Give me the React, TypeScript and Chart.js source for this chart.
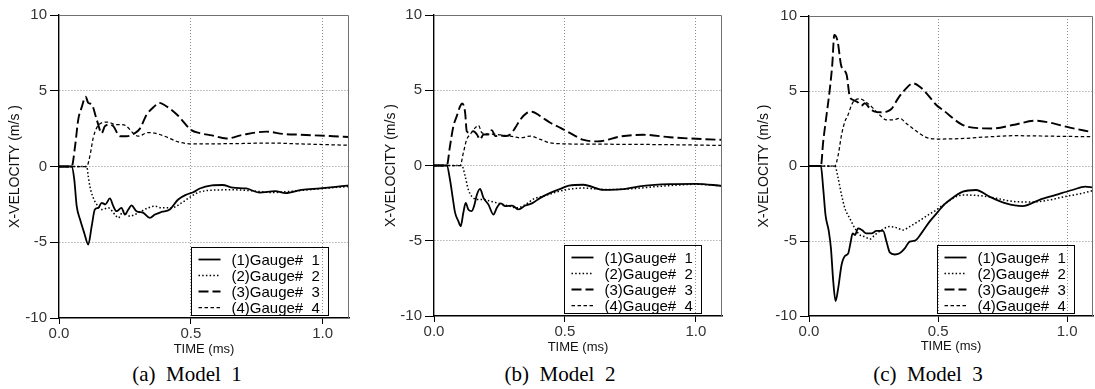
import React, { useEffect, useRef } from 'react';
import { Chart, registerables } from 'chart.js';

Chart.register(...registerables);
Chart.defaults.font.family = '"Liberation Sans", Arial, Helvetica, sans-serif';

// ---------- axis ticks / labels ----------
const xTicks = [0, 0.5, 1.0];
const xTickLabels = ['0.0', '0.5', '1.0'];
const yTicks = [-10, -5, 0, 5, 10];
const yTickLabels = ['-10', '-5', '0', '5', '10'];
const xTitle = 'TIME (ms)';
const yTitle = 'X-VELOCITY (m/s )';
const gaugeLabels = ['(1)Gauge#  1', '(2)Gauge#  2', '(3)Gauge#  3', '(4)Gauge#  4'];
const captions = ['(a)  Model  1', '(b)  Model  2', '(c)  Model  3'];

// ---------- Model 1 ----------
const m1g1T = [0, 0.048, 0.058, 0.067, 0.08, 0.096, 0.111, 0.124, 0.136, 0.149, 0.162, 0.176, 0.193, 0.206, 0.218, 0.237, 0.25, 0.263, 0.275, 0.294, 0.32, 0.345, 0.364, 0.389, 0.42, 0.452, 0.484, 0.509, 0.534, 0.58, 0.62, 0.66, 0.71, 0.76, 0.82, 0.86, 0.92, 0.99, 1.05, 1.1];
const m1g1V = [0, 0, -0.86, -2.6, -3.5, -4.4, -5.15, -3.94, -2.84, -2.73, -2.4, -2.5, -2.11, -2.62, -2.95, -2.73, -3.17, -2.84, -2.57, -2.95, -3.06, -3.39, -3.17, -3.0, -2.84, -2.18, -1.85, -1.7, -1.45, -1.25, -1.22, -1.4, -1.45, -1.72, -1.62, -1.76, -1.54, -1.45, -1.35, -1.25];
const m1g2T = [0, 0.105, 0.111, 0.117, 0.13, 0.143, 0.162, 0.187, 0.212, 0.225, 0.244, 0.269, 0.288, 0.313, 0.338, 0.364, 0.389, 0.427, 0.465, 0.502, 0.53, 0.6, 0.66, 0.73, 0.81, 0.87, 0.92, 1.0, 1.1];
const m1g2V = [0, 0, -0.64, -1.3, -2.07, -2.5, -2.84, -2.73, -3.17, -3.39, -2.95, -3.28, -3.17, -2.95, -2.73, -2.62, -2.73, -2.73, -2.4, -1.96, -1.7, -1.55, -1.54, -1.6, -1.72, -1.65, -1.58, -1.45, -1.32];
const m1g3T = [0, 0.048, 0.061, 0.073, 0.086, 0.101, 0.111, 0.124, 0.143, 0.162, 0.174, 0.193, 0.206, 0.231, 0.256, 0.288, 0.307, 0.332, 0.364, 0.379, 0.414, 0.452, 0.502, 0.534, 0.58, 0.635, 0.7, 0.787, 0.85, 0.913, 1.04, 1.1];
const m1g3V = [0, 0, 1.34, 3.1, 3.9, 4.6, 4.2, 4.1, 3.1, 2.2, 2.66, 2.77, 2.66, 2.0, 2.0, 2.2, 2.5, 3.4, 4.0, 4.2, 3.9, 3.35, 2.4, 2.2, 2.05, 1.85, 2.1, 2.3, 2.15, 2.1, 2.0, 1.95];
const m1g4T = [0, 0.105, 0.117, 0.13, 0.143, 0.162, 0.187, 0.212, 0.237, 0.256, 0.281, 0.3, 0.338, 0.364, 0.4, 0.452, 0.502, 0.6, 0.7, 0.8, 0.9, 1.0, 1.1];
const m1g4V = [0, 0, 0.68, 1.9, 2.55, 2.88, 2.93, 2.77, 2.77, 2.66, 2.2, 2.0, 2.24, 2.2, 2.0, 1.63, 1.5, 1.5, 1.52, 1.55, 1.5, 1.45, 1.4];

// ---------- Model 2 ----------
const m2g1T = [0, 0.049, 0.061, 0.072, 0.08, 0.093, 0.102, 0.112, 0.121, 0.131, 0.144, 0.153, 0.164, 0.176, 0.189, 0.208, 0.227, 0.24, 0.255, 0.272, 0.298, 0.323, 0.349, 0.374, 0.406, 0.444, 0.483, 0.515, 0.57, 0.649, 0.725, 0.8, 0.9, 1.0, 1.1];
const m2g1V = [0, 0, -0.93, -2.2, -3.1, -3.7, -4.03, -3.14, -2.48, -2.92, -3.03, -2.7, -1.93, -1.55, -2.15, -2.6, -3.26, -2.81, -2.52, -2.7, -2.66, -2.92, -2.66, -2.52, -2.15, -1.82, -1.55, -1.33, -1.28, -1.62, -1.57, -1.35, -1.24, -1.22, -1.35];
const m2g2T = [0, 0.106, 0.119, 0.131, 0.144, 0.164, 0.189, 0.215, 0.24, 0.279, 0.317, 0.349, 0.381, 0.419, 0.457, 0.508, 0.57, 0.65, 0.75, 0.85, 0.95, 1.0, 1.1];
const m2g2V = [0, 0, -0.71, -1.6, -2.04, -2.26, -2.26, -2.37, -2.48, -2.66, -2.81, -2.6, -2.22, -2.04, -1.82, -1.6, -1.5, -1.6, -1.55, -1.4, -1.28, -1.25, -1.35];
const m2g3T = [0, 0.049, 0.061, 0.074, 0.087, 0.1, 0.108, 0.119, 0.125, 0.138, 0.151, 0.164, 0.176, 0.189, 0.208, 0.221, 0.234, 0.253, 0.272, 0.291, 0.31, 0.33, 0.355, 0.374, 0.406, 0.444, 0.483, 0.515, 0.572, 0.624, 0.713, 0.8, 0.9, 1.03, 1.1];
const m2g3V = [0, 0, 1.28, 2.61, 3.28, 3.94, 4.12, 3.5, 2.28, 2.17, 2.28, 2.06, 1.73, 2.06, 2.06, 2.35, 1.95, 2.0, 1.95, 2.06, 2.5, 3.06, 3.5, 3.57, 3.28, 2.84, 2.5, 2.2, 1.7, 1.6, 1.93, 2.04, 1.88, 1.75, 1.7];
const m2g4T = [0, 0.1, 0.112, 0.125, 0.138, 0.157, 0.17, 0.183, 0.202, 0.24, 0.291, 0.33, 0.368, 0.406, 0.444, 0.495, 0.6, 0.8, 1.0, 1.1];
const m2g4V = [0, 0, 0.84, 1.73, 2.06, 2.5, 2.66, 2.17, 2.1, 2.06, 1.95, 1.84, 1.95, 1.73, 1.5, 1.44, 1.42, 1.4, 1.36, 1.33];

// ---------- Model 3 ----------
const m3g1T = [0, 0.046, 0.055, 0.064, 0.077, 0.085, 0.094, 0.103, 0.113, 0.126, 0.139, 0.152, 0.161, 0.169, 0.178, 0.19, 0.205, 0.222, 0.242, 0.261, 0.287, 0.3, 0.313, 0.332, 0.351, 0.371, 0.39, 0.41, 0.435, 0.467, 0.5, 0.519, 0.545, 0.596, 0.647, 0.699, 0.763, 0.827, 0.891, 0.956, 1.02, 1.07, 1.1];
const m3g1V = [0, 0, -1.49, -3.27, -4.38, -5.49, -7.71, -9.0, -8.16, -6.6, -6.0, -5.82, -5.1, -4.49, -4.6, -4.16, -4.27, -4.49, -4.49, -4.33, -4.33, -5.04, -5.76, -5.9, -5.82, -5.49, -5.04, -4.98, -4.49, -3.71, -3.04, -2.65, -2.27, -1.71, -1.6, -2.04, -2.49, -2.67, -2.27, -1.93, -1.6, -1.38, -1.44];
const m3g2T = [0, 0.1, 0.113, 0.126, 0.139, 0.158, 0.178, 0.197, 0.216, 0.236, 0.255, 0.281, 0.313, 0.339, 0.364, 0.39, 0.422, 0.461, 0.493, 0.519, 0.596, 0.673, 0.725, 0.8, 0.86, 0.93, 0.99, 1.05, 1.1];
const m3g2V = [0, 0, -0.82, -1.93, -2.82, -3.49, -4.16, -4.6, -4.71, -4.87, -4.6, -4.27, -4.04, -4.11, -4.27, -4.04, -3.71, -3.27, -2.93, -2.6, -1.93, -2.0, -2.15, -2.38, -2.4, -2.27, -2.04, -1.85, -1.64];
const m3g3T = [0, 0.046, 0.055, 0.068, 0.081, 0.09, 0.098, 0.111, 0.124, 0.136, 0.146, 0.158, 0.171, 0.19, 0.203, 0.216, 0.236, 0.255, 0.28, 0.3, 0.319, 0.345, 0.371, 0.403, 0.429, 0.461, 0.493, 0.519, 0.596, 0.673, 0.71, 0.789, 0.879, 0.93, 0.995, 1.1];
const m3g3V = [0, 0, 1.62, 3.4, 5.18, 6.73, 8.73, 8.3, 6.73, 6.4, 6.07, 4.62, 4.4, 4.24, 4.02, 4.18, 3.84, 3.62, 3.58, 3.62, 3.8, 4.51, 5.07, 5.51, 5.29, 4.73, 4.07, 3.73, 2.73, 2.51, 2.5, 2.73, 3.02, 2.9, 2.62, 2.24];
const m3g4T = [0, 0.1, 0.113, 0.126, 0.139, 0.151, 0.165, 0.178, 0.197, 0.223, 0.249, 0.274, 0.3, 0.326, 0.351, 0.377, 0.41, 0.448, 0.486, 0.519, 0.6, 0.7, 0.8, 0.9, 1.0, 1.1];
const m3g4V = [0, 0, 0.73, 2.07, 2.96, 3.4, 4.07, 4.4, 4.47, 4.24, 3.84, 3.4, 3.07, 3.07, 3.18, 2.84, 2.4, 1.96, 1.8, 1.8, 1.84, 1.95, 2.02, 2.0, 1.97, 1.96];

const seriesStyles = [
  { width: 1.8, dash: [] as number[] },
  { width: 1.5, dash: [1.5, 2.2] },
  { width: 1.9, dash: [10, 4] },
  { width: 1.25, dash: [3.5, 2.5] },
];

const panels = [
  { left: 0, width: 360, yAxisWidth: 59, padTop: 15, padRight: 11, xAxisHeight: 42, xTitlePad: 3.2, yTitlePad: 6.3, legendGap: 21, captionX: 187,
    series: [[m1g1T, m1g1V], [m1g2T, m1g2V], [m1g3T, m1g3V], [m1g4T, m1g4V]] },
  { left: 370, width: 360, yAxisWidth: 64, padTop: 15, padRight: 8, xAxisHeight: 44, xTitlePad: 5.2, yTitlePad: 12.6, legendGap: 21, captionX: 560,
    series: [[m2g1T, m2g1V], [m2g2T, m2g2V], [m2g3T, m2g3V], [m2g4T, m2g4V]] },
  { left: 735, width: 360, yAxisWidth: 74, padTop: 16, padRight: 2, xAxisHeight: 44, xTitlePad: 6.2, yTitlePad: 20.6, legendGap: 19, captionX: 928,
    series: [[m3g1T, m3g1V], [m3g2T, m3g2V], [m3g3T, m3g3V], [m3g4T, m3g4V]] },
];

const CANVAS_H = 360;
const GRID = '#8c8c8c';
const CLEAR = 'rgba(0,0,0,0)';

const decorPlugin = {
  id: 'decor',
  afterDatasetsDraw(chart: any, _args: any, opts: any) {
    const { ctx, chartArea: a } = chart;
    ctx.save();
    ctx.setLineDash([]);
    ctx.strokeStyle = '#707070';
    ctx.lineWidth = 1;
    ctx.beginPath();
    ctx.moveTo(a.left, a.top + 0.5);
    ctx.lineTo(a.right - 0.5, a.top + 0.5);
    ctx.lineTo(a.right - 0.5, a.bottom);
    ctx.stroke();

    const w = 137;
    const h = 68;
    const bx = Math.round(a.right - (opts.gap || 21) - w) + 0.5;
    const by = Math.round(a.bottom - 3 - h) + 0.5;
    ctx.strokeStyle = '#000';
    ctx.lineWidth = 1;
    ctx.strokeRect(bx, by, w, h);
    ctx.font = '15px "Liberation Sans", Arial, sans-serif';
    ctx.fillStyle = '#000';
    ctx.textBaseline = 'middle';
    ctx.textAlign = 'left';
    chart.data.datasets.forEach((ds: any, i: number) => {
      const yy = Math.round(by + 11 + i * 16) + 0.5;
      ctx.strokeStyle = ds.borderColor;
      ctx.lineWidth = ds.borderWidth;
      ctx.setLineDash(ds.borderDash || []);
      ctx.beginPath();
      ctx.moveTo(bx + 7, yy);
      ctx.lineTo(bx + 29, yy);
      ctx.stroke();
      ctx.setLineDash([]);
      ctx.fillText(ds.label, bx + 40, yy + 1);
    });
    ctx.restore();
  },
};

function Panel({ cfg }: { cfg: any }) {
  const ref = useRef<HTMLCanvasElement | null>(null);
  useEffect(() => {
    if (!ref.current) return;
    const datasets = cfg.series.map((s: number[][], i: number) => ({
      label: gaugeLabels[i],
      data: s[0].map((t: number, k: number) => ({ x: t, y: s[1][k] })),
      borderColor: '#000',
      backgroundColor: '#000',
      borderWidth: seriesStyles[i].width,
      borderDash: seriesStyles[i].dash,
      pointRadius: 0,
      fill: false,
      cubicInterpolationMode: 'monotone',
    }));
    const chart = new Chart(ref.current, {
      type: 'line',
      data: { datasets },
      plugins: [decorPlugin],
      options: {
        responsive: false,
        animation: false,
        devicePixelRatio: 1,
        layout: { padding: { top: cfg.padTop, right: cfg.padRight, left: 0, bottom: 0 } },
        plugins: {
          legend: { display: false },
          tooltip: { enabled: false },
          decor: { gap: cfg.legendGap },
        } as any,
        scales: {
          x: {
            type: 'linear',
            min: 0,
            max: 1.1,
            afterBuildTicks: (s: any) => { s.ticks = xTicks.map((v) => ({ value: v })); },
            afterFit: (s: any) => { s.height = cfg.xAxisHeight; },
            ticks: {
              autoSkip: false,
              maxRotation: 0,
              padding: 1,
              color: '#333',
              font: { size: 15 },
              callback: (_v: any, i: number) => xTickLabels[i],
            },
            grid: {
              color: (c: any) => (c.tick && c.tick.value === 0 ? CLEAR : GRID),
              lineWidth: 1,
              tickLength: 6,
              tickColor: '#000',
              tickBorderDash: [],
            },
            border: { color: '#000', width: 1.4, dash: [1, 2] },
            title: { display: true, text: xTitle, color: '#111', font: { size: 13 }, padding: { top: 0, bottom: cfg.xTitlePad } },
          },
          y: {
            type: 'linear',
            min: -10,
            max: 10,
            afterBuildTicks: (s: any) => { s.ticks = yTicks.map((v) => ({ value: v })); },
            afterFit: (s: any) => { s.width = cfg.yAxisWidth; },
            ticks: {
              padding: 3,
              color: '#333',
              font: { size: 15 },
              callback: (_v: any, i: number) => yTickLabels[i],
            },
            grid: {
              color: (c: any) => (c.tick && (c.tick.value === -10 || c.tick.value === 10) ? CLEAR : GRID),
              lineWidth: 1,
              tickLength: 9,
              tickColor: '#000',
              tickBorderDash: [],
            },
            border: { color: '#000', width: 1.4, dash: [1, 2] },
            title: { display: true, text: yTitle, color: '#111', font: { size: 14 }, padding: { top: cfg.yTitlePad, bottom: 0 } },
          },
        },
      } as any,
    });
    return () => chart.destroy();
  }, [cfg]);
  return (
    <canvas
      ref={ref}
      width={cfg.width}
      height={CANVAS_H}
      style={{ position: 'absolute', left: cfg.left, top: 0, width: cfg.width, height: CANVAS_H, display: 'block' }}
    />
  );
}

export default function App() {
  return (
    <div style={{ position: 'absolute', left: 0, top: 0, width: 1095, height: 389, background: '#fff', overflow: 'hidden' }}>
      {panels.map((p, i) => (
        <Panel key={i} cfg={p} />
      ))}
      {panels.map((p, i) => (
        <div
          key={'c' + i}
          style={{
            position: 'absolute',
            left: p.captionX - 100,
            top: 364,
            width: 200,
            textAlign: 'center',
            fontFamily: '"Liberation Serif", "Times New Roman", serif',
            fontSize: 21,
            lineHeight: '21px',
            whiteSpace: 'pre',
            color: '#000',
          }}
        >
          {captions[i]}
        </div>
      ))}
    </div>
  );
}
